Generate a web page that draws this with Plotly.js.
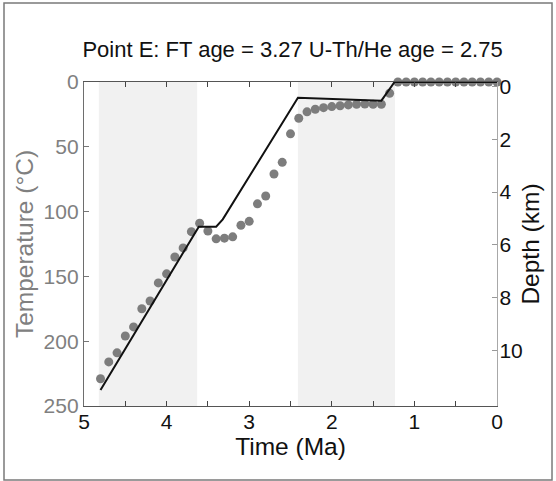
<!DOCTYPE html>
<html>
<head>
<meta charset="utf-8">
<script src="https://cdn.plot.ly/plotly-3.0.1.min.js"></script>
<style>html,body{margin:0;padding:0;background:#fff;}#chart{width:556px;height:481px;}</style>
</head>
<body>
<div id="chart"></div>
<script>
// Gray dots: temperature history (time in Ma, temperature in °C)
var dotTime = [4.8,4.7,4.6,4.5,4.4,4.3,4.2,4.1,4.0,3.9,3.8,3.7,3.6,3.5,3.4,3.3,3.2,3.1,3.0,2.9,2.8,2.7,2.6,2.5,2.4,2.3,2.2,2.1,2.0,1.9,1.8,1.7,1.6,1.5,1.4,1.3,1.2,1.1,1.0,0.9,0.8,0.7,0.6,0.5,0.4,0.3,0.2,0.1,0.0];
var dotTemp = [229,216,209,196,189,175,169,155,148,135,128,115.5,109,115,121,120.5,119.5,110.5,107.5,94,88,71,62,40,28,23,21,19.8,19,18.3,17.7,17.2,17,17.2,17.2,8.7,0,0,0,0,0,0,0,0,0,0,0,0,0];

// Black line: model path
var lineTime = [4.80,3.61,3.40,3.32,2.41,2.33,1.40,1.24,0.0];
var lineTemp = [237.6,111.6,111.6,106.0,12.1,12.3,14.4,0,0];

// Shaded intervals (Ma)
var bandStart = [4.82, 2.41];
var bandEnd = [3.63, 1.235];

// Axis ticks
var timeTicks = [5,4,3,2,1,0];
var tempTicks = [0,50,100,150,200,250];
var depthTicks = [0,2,4,6,8,10];

var titleText = 'Point E: FT age = 3.27 U-Th/He age = 2.75';

var FONT = 'Liberation Sans, Arial, Helvetica, sans-serif';

var traces = [
  {x: dotTime, y: dotTemp, type: 'scatter', mode: 'markers', cliponaxis: false,
   marker: {size: 9, color: '#7d7d7d'}, hoverinfo: 'skip', showlegend: false},
  {x: lineTime, y: lineTemp, type: 'scatter', mode: 'lines', cliponaxis: false,
   line: {color: '#111111', width: 2}, hoverinfo: 'skip', showlegend: false},
  {x: [], y: [], yaxis: 'y2', type: 'scatter', mode: 'markers', showlegend: false, hoverinfo: 'skip'}
];

var shapes = bandStart.map(function(s, i){
  return {type: 'rect', xref: 'x', yref: 'paper', x0: s, x1: bandEnd[i], y0: 0, y1: 1,
          fillcolor: '#f1f1f1', line: {width: 0}, layer: 'below'};
});
// outer frame of the figure
shapes.push({type: 'rect', xref: 'paper', yref: 'paper',
  x0: -0.1937, x1: 1.1332, y0: -0.2284, y1: 1.2438,
  line: {color: '#7a7a7a', width: 1.5}, fillcolor: 'rgba(0,0,0,0)'});

var layout = {
  width: 556, height: 481,
  margin: {l: 84, r: 59, t: 82, b: 75},
  paper_bgcolor: '#ffffff', plot_bgcolor: '#ffffff',
  showlegend: false,
  font: {family: FONT, color: '#000'},
  title: {text: titleText, font: {family: FONT, size: 22, color: '#111'},
          xref: 'paper', x: 0.505, xanchor: 'center', yref: 'container', y: 0.898, yanchor: 'middle'},
  xaxis: {
    range: [5, 0], tickvals: timeTicks, ticktext: timeTicks.map(String),
    ticks: 'inside', ticklen: 5, tickcolor: '#444', tickwidth: 1,
    minor: {dtick: 0.5, tick0: 0, ticks: 'inside', ticklen: 5, tickcolor: '#444', showgrid: false},
    showline: true, linecolor: '#555', linewidth: 1.2, mirror: 'ticks',
    showgrid: false, zeroline: false,
    tickfont: {size: 21, color: '#111'}, ticklabelstandoff: -3,
    title: {text: 'Time (Ma)', font: {size: 24.5, color: '#111'}, standoff: 0}
  },
  yaxis: {
    range: [250, 0], tickvals: tempTicks, ticktext: tempTicks.map(String),
    ticks: 'inside', ticklen: 5, tickcolor: '#777',
    showline: true, linecolor: '#6e6e6e', linewidth: 1.2,
    showgrid: false, zeroline: false,
    tickfont: {size: 21, color: '#808080'},
    title: {text: 'Temperature (°C)', font: {size: 24.5, color: '#808080'}, standoff: 3}
  },
  yaxis2: {
    overlaying: 'y', side: 'right', anchor: 'x',
    range: [12.12, -0.18], tickvals: depthTicks, ticktext: depthTicks.map(String),
    ticks: 'inside', ticklen: 5, tickcolor: '#999',
    showline: true, linecolor: '#a8a8a8', linewidth: 1.2,
    showgrid: false, zeroline: false,
    tickfont: {size: 21, color: '#111'}, ticklabelstandoff: -3,
    title: {text: 'Depth (km)', font: {size: 24.5, color: '#111'}, standoff: 0}
  },
  shapes: shapes
};

Plotly.newPlot('chart', traces, layout, {staticPlot: true, displayModeBar: false});
</script>
</body>
</html>
